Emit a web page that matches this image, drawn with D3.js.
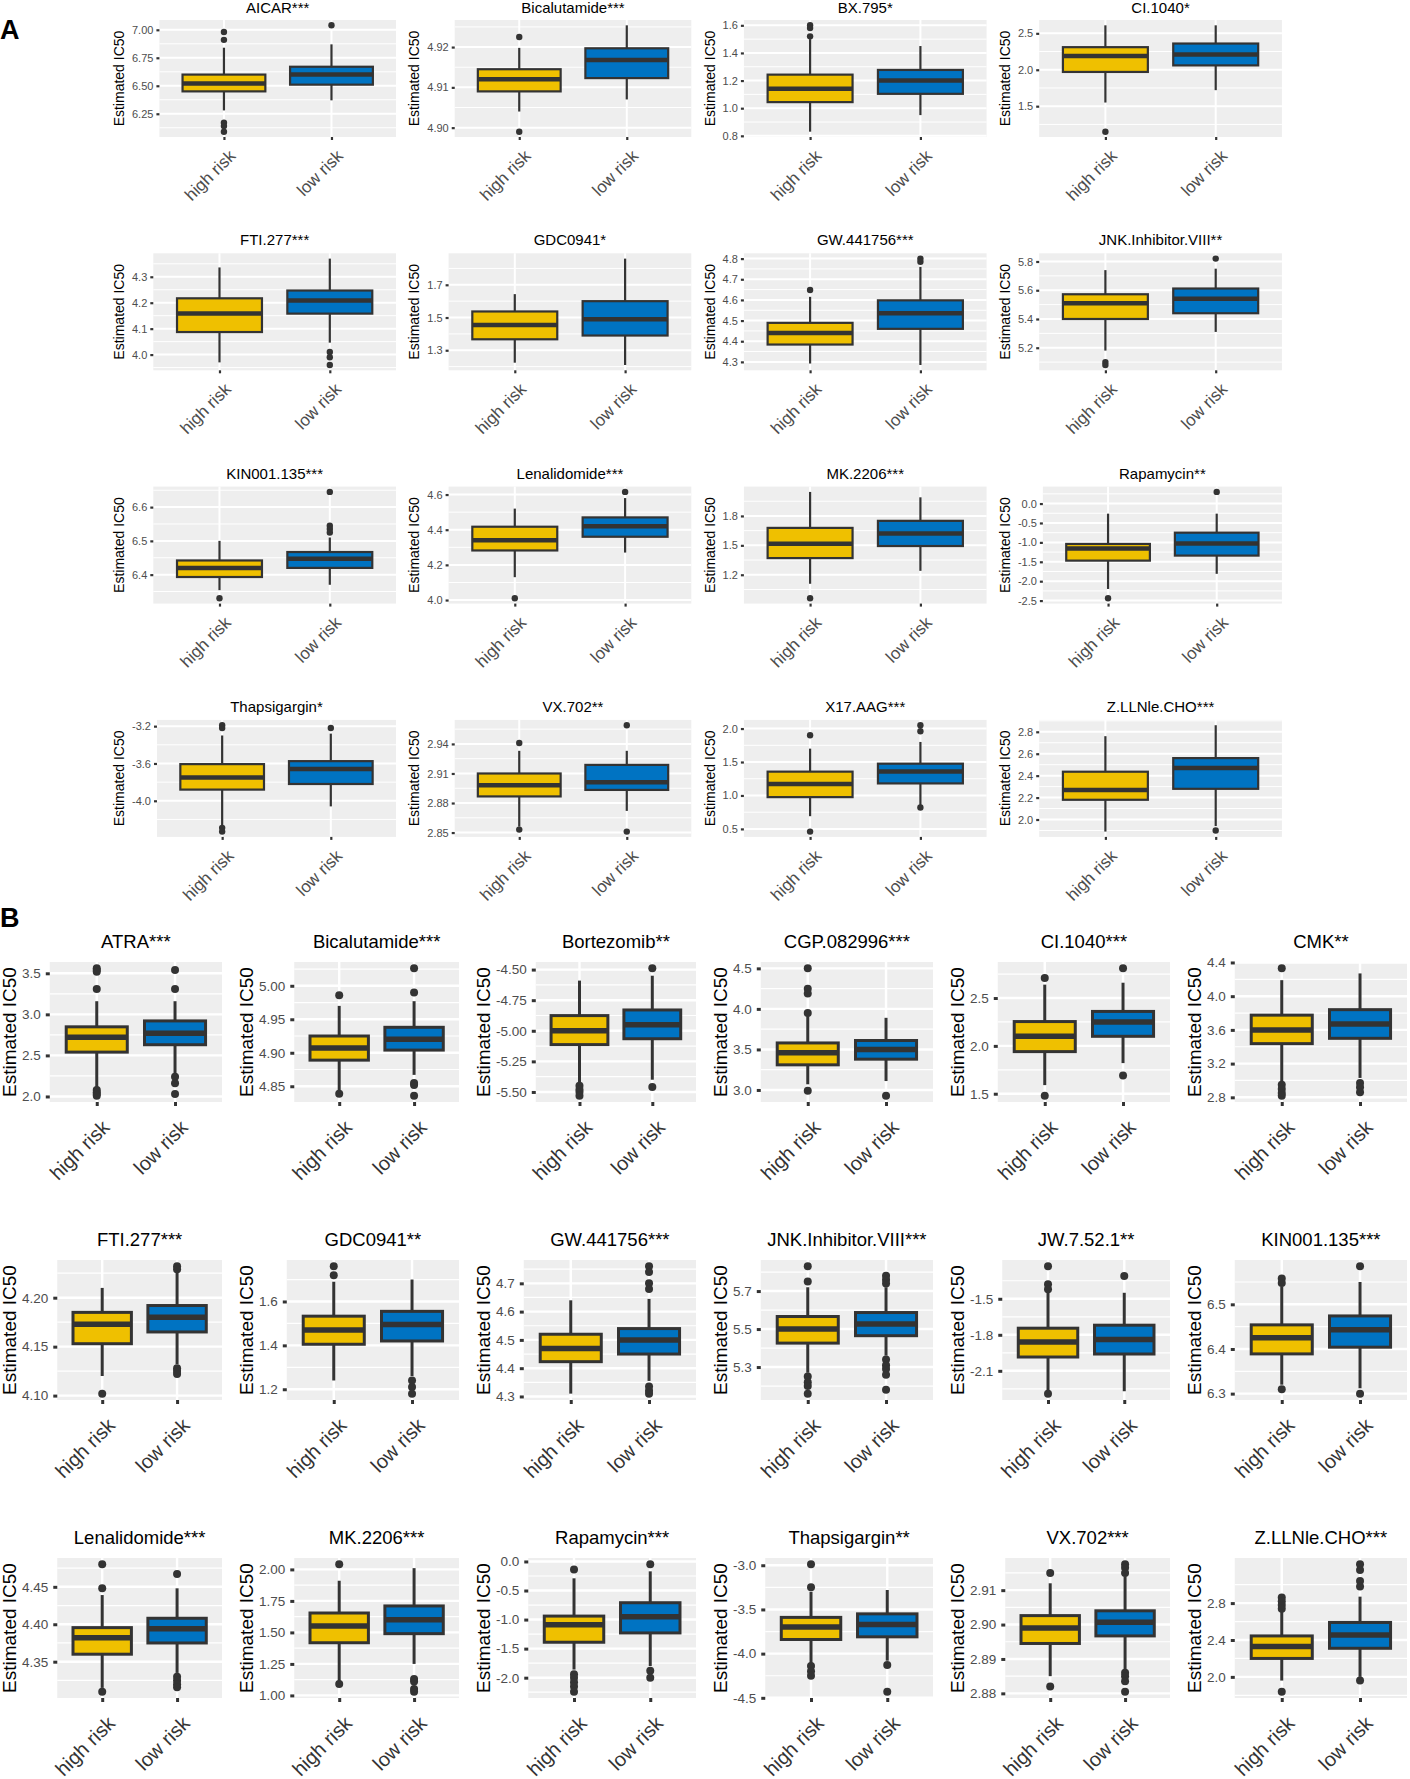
<!DOCTYPE html>
<html>
<head>
<meta charset="utf-8">
<script src="https://cdn.jsdelivr.net/npm/d3@7"></script>
<style>
  body { margin: 0; background: #fff; }
</style>
</head>
<body>
<script>
// groups on the x axis
var groups = ["high risk", "low risk"];
var fills = ["#EFC000", "#0073C2"];

// ---- panel A (4 x 4) ----
var drugsA = ["AICAR***", "Bicalutamide***", "BX.795*", "CI.1040*",
              "FTI.277***", "GDC0941*", "GW.441756***", "JNK.Inhibitor.VIII**",
              "KIN001.135***", "Lenalidomide***", "MK.2206***", "Rapamycin**",
              "Thapsigargin*", "VX.702**", "X17.AAG***", "Z.LLNle.CHO***"];
var ticksA = [
  ["6.25", "6.50", "6.75", "7.00"], ["4.90", "4.91", "4.92"], ["0.8", "1.0", "1.2", "1.4", "1.6"], ["1.5", "2.0", "2.5"],
  ["4.0", "4.1", "4.2", "4.3"], ["1.3", "1.5", "1.7"], ["4.3", "4.4", "4.5", "4.6", "4.7", "4.8"], ["5.2", "5.4", "5.6", "5.8"],
  ["6.4", "6.5", "6.6"], ["4.0", "4.2", "4.4", "4.6"], ["1.2", "1.5", "1.8"], ["-2.5", "-2.0", "-1.5", "-1.0", "-0.5", "0.0"],
  ["-4.0", "-3.6", "-3.2"], ["2.85", "2.88", "2.91", "2.94"], ["0.5", "1.0", "1.5", "2.0"], ["2.0", "2.2", "2.4", "2.6", "2.8"]
];
// [lower whisker, q1, median, q3, upper whisker]
var highA = [
  [6.28, 6.45, 6.52, 6.60, 6.84], [4.904, 4.909, 4.912, 4.9145, 4.9198], [0.83, 1.044, 1.14, 1.243, 1.50], [1.55, 1.97, 2.19, 2.31, 2.61],
  [3.97, 4.087, 4.158, 4.217, 4.336], [1.224, 1.367, 1.455, 1.537, 1.643], [4.292, 4.384, 4.44, 4.489, 4.615], [5.18, 5.40, 5.51, 5.572, 5.74],
  [6.354, 6.393, 6.42, 6.442, 6.50], [4.13, 4.282, 4.34, 4.417, 4.52], [1.108, 1.37, 1.517, 1.678, 2.045], [-2.2, -1.47, -1.16, -1.04, -0.26],
  [-4.26, -3.88, -3.75, -3.607, -3.30], [2.856, 2.8867, 2.898, 2.91, 2.933], [0.69, 0.975, 1.17, 1.356, 1.70], [1.89, 2.18, 2.27, 2.436, 2.76]
];
var lowA = [
  [6.37, 6.51, 6.60, 6.67, 6.87], [4.907, 4.9123, 4.9168, 4.9197, 4.9254], [0.95, 1.104, 1.20, 1.277, 1.45], [1.72, 2.06, 2.21, 2.36, 2.61],
  [4.046, 4.158, 4.209, 4.247, 4.37], [1.21, 1.39, 1.49, 1.60, 1.86], [4.285, 4.46, 4.535, 4.598, 4.76], [5.31, 5.44, 5.54, 5.612, 5.75],
  [6.37, 6.42, 6.447, 6.467, 6.51], [4.27, 4.36, 4.42, 4.47, 4.58], [1.24, 1.493, 1.62, 1.75, 1.99], [-1.81, -1.34, -1.03, -0.75, -0.26],
  [-4.06, -3.82, -3.66, -3.575, -3.28], [2.872, 2.8933, 2.901, 2.9187, 2.933], [0.84, 1.18, 1.36, 1.475, 1.80], [1.94, 2.28, 2.47, 2.56, 2.86]
];
var highOutA = [
  [6.98, 6.91, 6.17, 6.14, 6.09], [4.9225, 4.899], [1.60, 1.58, 1.52], [1.15],
  [], [], [4.648], [5.10, 5.08],
  [6.33], [4.01], [0.96], [-2.44],
  [-3.19, -3.22, -4.29, -4.33], [2.941, 2.853], [1.90, 0.46], []
];
var lowOutA = [
  [7.04], [], [], [],
  [4.01, 3.99, 3.96], [], [4.80, 4.785], [5.82],
  [6.645, 6.545, 6.535, 6.525], [4.615], [], [0.30],
  [-3.22], [2.959, 2.851], [2.05, 1.96, 0.82], [1.90]
];

// ---- panel B (3 x 6) ----
var drugsB = ["ATRA***", "Bicalutamide***", "Bortezomib**", "CGP.082996***", "CI.1040***", "CMK**",
              "FTI.277***", "GDC0941**", "GW.441756***", "JNK.Inhibitor.VIII***", "JW.7.52.1**", "KIN001.135***",
              "Lenalidomide***", "MK.2206***", "Rapamycin***", "Thapsigargin**", "VX.702***", "Z.LLNle.CHO***"];
var ticksB = [
  ["2.0", "2.5", "3.0", "3.5"], ["4.85", "4.90", "4.95", "5.00"], ["-5.50", "-5.25", "-5.00", "-4.75", "-4.50"],
  ["3.0", "3.5", "4.0", "4.5"], ["1.5", "2.0", "2.5"], ["2.8", "3.2", "3.6", "4.0", "4.4"],
  ["4.10", "4.15", "4.20"], ["1.2", "1.4", "1.6"], ["4.3", "4.4", "4.5", "4.6", "4.7"],
  ["5.3", "5.5", "5.7"], ["-2.1", "-1.8", "-1.5"], ["6.3", "6.4", "6.5"],
  ["4.35", "4.40", "4.45"], ["1.00", "1.25", "1.50", "1.75", "2.00"], ["-2.0", "-1.5", "-1.0", "-0.5", "0.0"],
  ["-4.5", "-4.0", "-3.5", "-3.0"], ["2.88", "2.89", "2.90", "2.91"], ["2.0", "2.4", "2.8"]
];
var highB = [
  [2.10, 2.54, 2.72, 2.848, 3.16], [4.843, 4.889, 4.907, 4.925, 4.97], [-5.42, -5.113, -5.00, -4.876, -4.59],
  [3.07, 3.31, 3.46, 3.58, 3.91], [1.59, 1.94, 2.10, 2.254, 2.64], [2.99, 3.437, 3.60, 3.775, 4.19],
  [4.12, 4.153, 4.173, 4.185, 4.21], [1.24, 1.405, 1.47, 1.533, 1.69], [4.31, 4.423, 4.47, 4.52, 4.64],
  [5.27, 5.426, 5.50, 5.566, 5.72], [-2.27, -1.985, -1.86, -1.745, -1.45], [6.32, 6.389, 6.425, 6.454, 6.54],
  [4.315, 4.36, 4.382, 4.3955, 4.439], [1.11, 1.418, 1.55, 1.654, 1.91], [-1.86, -1.39, -1.09, -0.94, -0.29],
  [-4.12, -3.84, -3.70, -3.59, -3.30], [2.885, 2.8945, 2.899, 2.9026, 2.912], [1.96, 2.20, 2.33, 2.444, 2.71]
];
var lowB = [
  [2.28, 2.63, 2.77, 2.92, 3.16], [4.867, 4.904, 4.92, 4.938, 4.977], [-5.40, -5.065, -4.95, -4.83, -4.55],
  [3.11, 3.38, 3.50, 3.61, 3.89], [1.82, 2.10, 2.25, 2.36, 2.66], [3.03, 3.50, 3.67, 3.84, 4.27],
  [4.132, 4.165, 4.18, 4.192, 4.227], [1.26, 1.42, 1.495, 1.555, 1.70], [4.355, 4.45, 4.50, 4.54, 4.645],
  [5.36, 5.465, 5.526, 5.587, 5.72], [-2.27, -1.96, -1.84, -1.72, -1.45], [6.312, 6.404, 6.443, 6.474, 6.55],
  [4.335, 4.375, 4.394, 4.408, 4.448], [1.25, 1.49, 1.60, 1.71, 2.01], [-1.8, -1.23, -0.95, -0.71, -0.17],
  [-4.08, -3.81, -3.67, -3.55, -3.28], [2.887, 2.8967, 2.9007, 2.904, 2.914], [2.0, 2.31, 2.455, 2.59, 2.87]
];
var highOutB = [
  [3.56, 3.54, 3.52, 3.31, 2.08, 2.05, 2.03, 2.01], [4.986, 4.839], [-5.45, -5.48, -5.50, -5.53],
  [4.50, 4.25, 4.19, 3.95, 2.99], [2.71, 1.48], [4.33, 2.95, 2.90, 2.85, 2.82],
  [4.102], [1.76, 1.72], [],
  [5.83, 5.75, 5.25, 5.22, 5.20, 5.16], [-1.23, -1.38, -1.42, -2.29], [6.558, 6.548, 6.31],
  [4.48, 4.448, 4.31], [2.04, 1.09], [-0.14, -1.94, -2.0, -2.08, -2.15, -2.24],
  [-2.99, -3.25, -4.14, -4.20, -4.25], [2.915, 2.882], [2.86, 2.82, 2.78, 2.74, 1.84]
];
var lowOutB = [
  [3.54, 3.31, 2.24, 2.16, 2.03], [5.026, 4.99, 4.855, 4.852, 4.836], [-4.49, -5.46],
  [2.93], [2.81, 1.69], [2.97, 2.92, 2.86],
  [4.232, 4.229, 4.128, 4.125, 4.122], [1.24, 1.21, 1.18], [4.76, 4.74, 4.70, 4.68, 4.335, 4.32, 4.31],
  [5.78, 5.76, 5.74, 5.34, 5.31, 5.29, 5.26, 5.18], [-1.31], [6.585, 6.30],
  [4.467, 4.33, 4.325, 4.32, 4.316], [1.13, 1.11, 1.05, 1.03], [-0.05, -1.88, -2.0],
  [-4.13, -4.43], [2.9175, 2.9165, 2.915, 2.886, 2.885, 2.8835, 2.8805], [3.22, 3.16, 3.04, 2.98, 1.96]
];

var W = 1410, H = 1779;
var svg = d3.select("body").append("svg")
    .attr("width", W)
    .attr("height", H)
    .style("font-family", "'Liberation Sans', Arial, Helvetica, sans-serif");

// sizes for the two figure parts
var styleA = {title: 15, ylab: 14, tick: 11, xlab: 17, lw: 2.2, med: 4.5, r: 3.2, box: 0.77,
              ylabGap: 13, tickPad: 3, tickLen: 3, titleGap: 8, xlabGap: 11,
              major: 2, minor: 1, xlabColor: "#4d4d4d"};
var styleB = {title: 18.5, ylab: 19, tick: 13.5, xlab: 20, lw: 3, med: 5.5, r: 4, box: 0.78,
              ylabGap: 13, tickPad: 5, tickLen: 4, titleGap: 14, xlabGap: 16,
              major: 2.4, minor: 1.2, xlabColor: "#333333"};

function drawPanel(name, tickLabels, boxes, outs, lay, st) {
  var g = svg.append("g");

  // limits like ggplot: data range + 5%
  var vals = boxes[0].concat(boxes[1], outs[0], outs[1]);
  var ext = d3.extent(vals), pad = (ext[1] - ext[0]) * 0.05;
  var bottom = lay.top + lay.h;

  // measure tick labels to place the panel like ggplot does
  var tmp = g.append("g").attr("font-size", st.tick);
  var w = 0;
  tickLabels.forEach(function (t) {
    var n = tmp.append("text").text(t).node();
    w = Math.max(w, n.getComputedTextLength());
  });
  tmp.remove();
  var left = lay.yc + st.ylabGap + w + st.tickPad + st.tickLen;

  var x = d3.scaleLinear().domain([0.4, 2.6]).range([left, lay.right]);
  var y = d3.scaleLinear().domain([ext[0] - pad, ext[1] + pad]).range([bottom, lay.top]);
  var ticks = tickLabels.map(Number);
  var step = ticks[1] - ticks[0];
  var minors = [ticks[0] - step / 2].concat(ticks.map(function (t) { return t + step / 2; }))
      .filter(function (m) { return m > y.domain()[0] && m < y.domain()[1]; });

  // panel background + grid
  g.append("rect")
      .attr("x", left).attr("y", lay.top)
      .attr("width", lay.right - left).attr("height", lay.h)
      .attr("fill", "#EEEEEE");
  g.selectAll(".minor").data(minors).enter().append("line")
      .attr("x1", left).attr("x2", lay.right)
      .attr("y1", function (d) { return y(d); }).attr("y2", function (d) { return y(d); })
      .attr("stroke", "#fff").attr("stroke-width", st.minor);
  g.selectAll(".major").data(ticks).enter().append("line")
      .attr("x1", left).attr("x2", lay.right)
      .attr("y1", function (d) { return y(d); }).attr("y2", function (d) { return y(d); })
      .attr("stroke", "#fff").attr("stroke-width", st.major);
  g.selectAll(".vmajor").data([1, 2]).enter().append("line")
      .attr("x1", function (d) { return x(d); }).attr("x2", function (d) { return x(d); })
      .attr("y1", lay.top).attr("y2", bottom)
      .attr("stroke", "#fff").attr("stroke-width", st.major);

  // boxes
  var bw = x(1 + st.box / 2) - x(1 - st.box / 2);
  boxes.forEach(function (b, k) {
    var cx = x(k + 1);
    g.append("line").attr("x1", cx).attr("x2", cx).attr("y1", y(b[0])).attr("y2", y(b[1]))
        .attr("stroke", "#333").attr("stroke-width", st.lw);
    g.append("line").attr("x1", cx).attr("x2", cx).attr("y1", y(b[3])).attr("y2", y(b[4]))
        .attr("stroke", "#333").attr("stroke-width", st.lw);
    g.append("rect")
        .attr("x", cx - bw / 2).attr("width", bw)
        .attr("y", y(b[3])).attr("height", y(b[1]) - y(b[3]))
        .attr("fill", fills[k]).attr("stroke", "#333").attr("stroke-width", st.lw);
    g.append("line").attr("x1", cx - bw / 2).attr("x2", cx + bw / 2)
        .attr("y1", y(b[2])).attr("y2", y(b[2]))
        .attr("stroke", "#333").attr("stroke-width", st.med);
    g.selectAll(".out" + k).data(outs[k]).enter().append("circle")
        .attr("cx", cx).attr("cy", function (d) { return y(d); })
        .attr("r", st.r).attr("fill", "#333");
  });

  // y axis
  var ya = g.append("g")
      .attr("transform", "translate(" + left + ",0)")
      .call(d3.axisLeft(y).tickValues(ticks).tickSize(st.tickLen).tickPadding(st.tickPad)
            .tickFormat(function (d, i) { return tickLabels[i]; }));
  ya.select(".domain").remove();
  ya.selectAll("line").attr("stroke", "#333").attr("stroke-width", st.lw);
  ya.selectAll("text").attr("font-size", st.tick).attr("fill", "#4d4d4d");

  // x axis
  var xa = g.append("g")
      .attr("transform", "translate(0," + bottom + ")")
      .call(d3.axisBottom(x).tickValues([1, 2]).tickSize(st.tickLen)
            .tickFormat(function (d) { return groups[d - 1]; }));
  xa.select(".domain").remove();
  xa.selectAll("line").attr("stroke", "#333").attr("stroke-width", st.lw);
  xa.selectAll("text")
      .attr("font-size", st.xlab).attr("fill", st.xlabColor)
      .attr("x", 0).attr("y", 0).attr("dy", "0.75em")
      .attr("text-anchor", "end")
      .attr("transform", "translate(3," + st.xlabGap + ") rotate(-45)");

  // titles
  g.append("text")
      .attr("transform", "translate(" + lay.yc + "," + (lay.top + lay.h / 2) + ") rotate(-90)")
      .attr("text-anchor", "middle").attr("dominant-baseline", "central")
      .attr("font-size", st.ylab).attr("fill", "#000")
      .text("Estimated IC50");
  g.append("text")
      .attr("x", (left + lay.right) / 2).attr("y", Math.max(lay.top - st.titleGap, 13))
      .attr("text-anchor", "middle").attr("font-size", st.title).attr("fill", "#000")
      .text(name);
}

drugsA.forEach(function (name, i) {
  var r = Math.floor(i / 4), c = i % 4;
  var yc = 119 + 295.3 * c;
  drawPanel(name, ticksA[i], [highA[i], lowA[i]], [highOutA[i], lowOutA[i]],
            {yc: yc, right: yc + 277, top: 20 + 233.3 * r, h: 117}, styleA);
});

drugsB.forEach(function (name, i) {
  var r = Math.floor(i / 6), c = i % 6;
  var yc = 9 + 237 * c;
  drawPanel(name, ticksB[i], [highB[i], lowB[i]], [highOutB[i], lowOutB[i]],
            {yc: yc, right: yc + 213, top: 962 + 298 * r, h: 140}, styleB);
});

// part letters
svg.append("text").attr("x", 0).attr("y", 39)
    .attr("font-size", 27).attr("font-weight", "bold").text("A");
svg.append("text").attr("x", 0).attr("y", 927)
    .attr("font-size", 27).attr("font-weight", "bold").text("B");
</script>
</body>
</html>
